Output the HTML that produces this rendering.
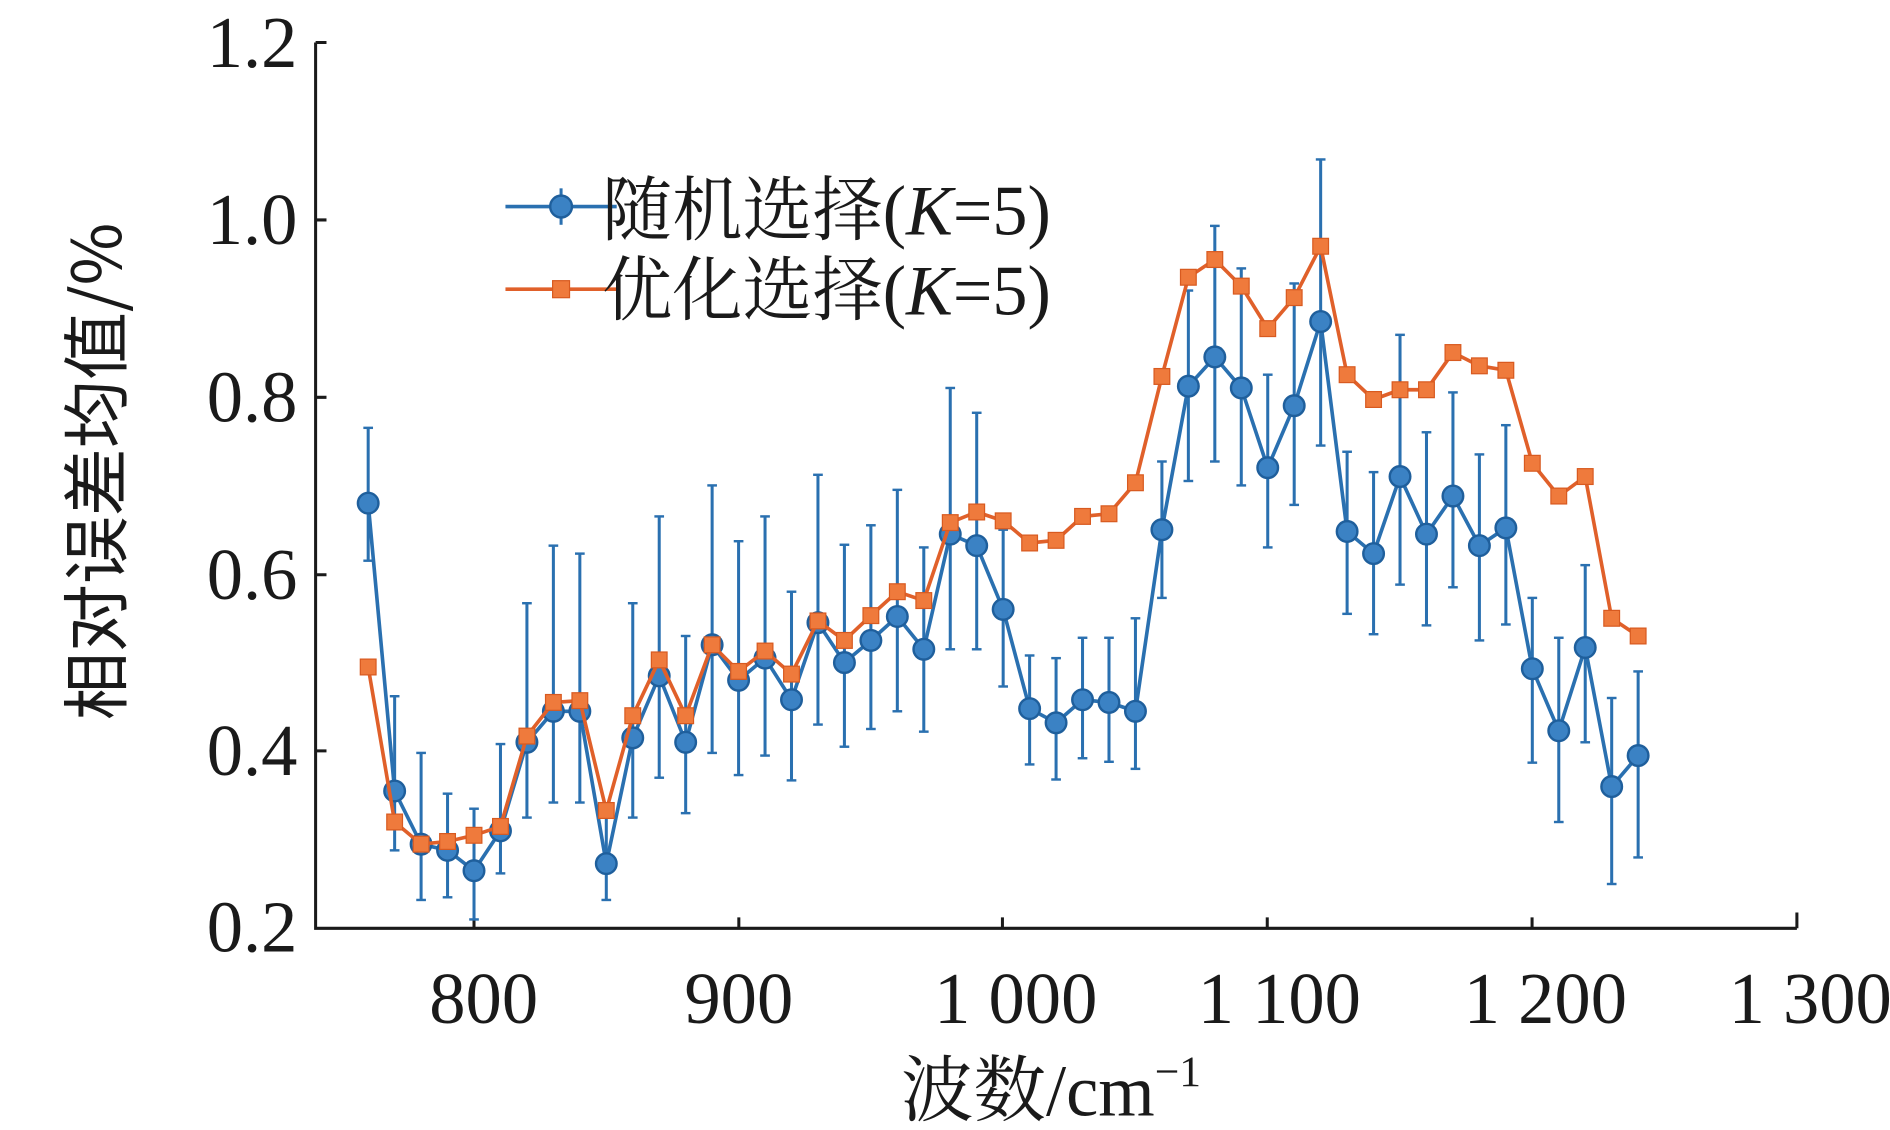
<!DOCTYPE html>
<html><head><meta charset="utf-8"><style>
html,body{margin:0;padding:0;background:#fff;width:1890px;height:1130px;overflow:hidden}
svg{display:block}
.t{font-family:"Liberation Serif","Noto Serif CJK SC",serif;font-size:60px;fill:#1a1a1a}
.c{font-family:"Liberation Serif","Noto Serif CJK SC",serif;font-size:58px;fill:#1a1a1a}
</style></head><body>
<svg id="s" width="1890" height="1130" viewBox="0 0 1563 930" preserveAspectRatio="none" xmlns="http://www.w3.org/2000/svg">
<g stroke="#1a1a1a" stroke-width="2.5" fill="none">
<path d="M261,35 V764 H1486"/>
<path d="M261,35 h9 M261,181 h9 M261,327 h9 M261,473 h9 M261,618 h9"/>
<path d="M392,764 v-9 M611,764 v-9 M829,764 v-9 M1048,764 v-9 M1267,764 v-9 M1486,764 v-13"/>
</g>
<g class="t" text-anchor="end">
<text x="246" y="55">1.2</text><text x="246" y="201">1.0</text><text x="246" y="347">0.8</text>
<text x="246" y="493">0.6</text><text x="246" y="638">0.4</text><text x="246" y="783">0.2</text>
</g>
<g class="t" text-anchor="middle">
<text x="400" y="842">800</text><text x="611" y="842">900</text><text x="840" y="842">1 000</text>
<text x="1058" y="842">1 100</text><text x="1278" y="842">1 200</text><text x="1497" y="842">1 300</text>
</g>
<text class="t" x="745" y="918">波数/cm<tspan font-size="36" dy="-24">−1</tspan></text>
<text transform="translate(100,388) rotate(-90)" text-anchor="middle" style="font-family:'Noto Sans CJK SC',sans-serif;font-size:56px;fill:#1a1a1a">相对误差均值/%</text>
<g id="d"></g>
<g>
<line x1="418" y1="170" x2="510" y2="170" stroke="#2a70b0" stroke-width="3"/>
<line x1="464" y1="155" x2="464" y2="185" stroke="#2a70b0" stroke-width="2.5"/>
<circle cx="464" cy="170" r="9" fill="#3b82c4" stroke="#1f5f9c" stroke-width="2"/>
<line x1="418" y1="238" x2="510" y2="238" stroke="#e0602a" stroke-width="3"/>
<rect x="457" y="231" width="14" height="14" fill="#ef7a3c" stroke="#d85a20" stroke-width="1"/>
<text class="c" x="498" y="193">随机选择(<tspan font-style="italic">K</tspan>=5)</text>
<text class="c" x="498" y="259">优化选择(<tspan font-style="italic">K</tspan>=5)</text>
</g>
</svg>
<script>
var B=[.68,.355,.295,.288,.265,.31,.41,.445,.445,.273,.415,.485,.41,.52,.48,.505,.458,.545,.5,.525,.552,.515,.645,.632,.56,.448,.432,.458,.455,.445,.65,.812,.845,.81,.72,.79,.885,.648,.623,.71,.645,.688,.632,.652,.493,.423,.517,.36,.395];
var T=[.765,.462,.398,.352,.335,.408,.567,.632,.623,.33,.567,.665,.53,.70,.637,.665,.58,.712,.633,.655,.695,.63,.81,.782,.65,.508,.505,.528,.528,.55,.727,.92,.993,.945,.825,.928,1.068,.738,.715,.87,.76,.805,.735,.768,.573,.528,.61,.46,.49];
var L=[.615,.288,.232,.235,.21,.262,.325,.342,.342,.232,.325,.37,.33,.398,.373,.395,.367,.43,.405,.425,.445,.422,.515,.515,.473,.385,.368,.392,.388,.38,.573,.705,.727,.70,.63,.678,.745,.555,.532,.588,.542,.585,.525,.543,.387,.32,.41,.25,.28];
var O=[.495,.32,.295,.298,.305,.315,.417,.455,.457,.333,.44,.503,.44,.52,.49,.513,.487,.547,.525,.553,.58,.57,.658,.67,.66,.635,.638,.665,.668,.703,.823,.935,.955,.925,.877,.912,.97,.825,.797,.808,.808,.85,.835,.83,.725,.688,.71,.55,.53];
function X(i){return 392+(760+10*i-800)*2.188}
function Y(v){return 764-(v-0.2)*729}
var h='',pb='',po='';
for(var i=0;i<B.length;i++){var x=X(i);
h+='<line x1="'+x+'" y1="'+Y(T[i])+'" x2="'+x+'" y2="'+Y(L[i])+'" stroke="#2a70b0" stroke-width="2.5"/>';
h+='<line x1="'+(x-4)+'" y1="'+Y(T[i])+'" x2="'+(x+4)+'" y2="'+Y(T[i])+'" stroke="#2a70b0" stroke-width="2"/>';
h+='<line x1="'+(x-4)+'" y1="'+Y(L[i])+'" x2="'+(x+4)+'" y2="'+Y(L[i])+'" stroke="#2a70b0" stroke-width="2"/>';
pb+=(i?'L':'M')+x+','+Y(B[i]);po+=(i?'L':'M')+x+','+Y(O[i]);}
h+='<path d="'+pb+'" fill="none" stroke="#2a70b0" stroke-width="3"/>';
for(i=0;i<B.length;i++)h+='<circle cx="'+X(i)+'" cy="'+Y(B[i])+'" r="8.5" fill="#3b82c4" stroke="#1f5f9c" stroke-width="2"/>';
h+='<path d="'+po+'" fill="none" stroke="#e0602a" stroke-width="3"/>';
for(i=0;i<O.length;i++)h+='<rect x="'+(X(i)-6.5)+'" y="'+(Y(O[i])-6.5)+'" width="13" height="13" fill="#ef7a3c" stroke="#d85a20" stroke-width="1"/>';
document.getElementById('d').innerHTML=h;
</script>
</body></html>
